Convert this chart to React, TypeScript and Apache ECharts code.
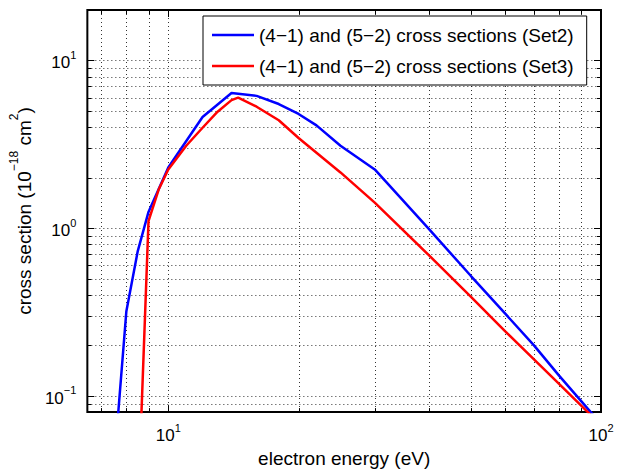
import React, { useEffect, useRef } from 'react';
import * as echarts from 'echarts';

const energySet2 = [7.5, 8.0, 8.5, 9.0, 10, 12, 14, 16, 18, 20, 22, 25, 30, 40, 50, 60, 70, 80, 90, 100];
const crossSet2 = [0.04, 0.32, 0.73, 1.25, 2.3, 4.6, 6.4, 6.15, 5.5, 4.8, 4.1, 3.1, 2.24, 0.99, 0.52, 0.31, 0.2, 0.132, 0.093, 0.068];
const energySet3 = [8.5, 9.0, 9.5, 10, 11, 12, 13, 14, 14.5, 16, 18, 20, 25, 30, 40, 50, 60, 70, 80, 90, 100];
const crossSet3 = [0.02, 1.1, 1.7, 2.24, 3.1, 3.97, 4.95, 5.8, 6.0, 5.3, 4.4, 3.45, 2.15, 1.42, 0.69, 0.39, 0.243, 0.165, 0.118, 0.0875, 0.067];
const seriesNames = ['(4−1) and (5−2) cross sections (Set2)', '(4−1) and (5−2) cross sections (Set3)'];
const seriesColors = ['#0000ff', '#ff0000'];
const xRange = [6.5, 100];
const yRange = [0.08, 20];
const xGridValues = [7, 8, 9, 10, 20, 30, 40, 50, 60, 70, 80, 90];
const yGridValues = [0.09, 0.1, 0.2, 0.3, 0.4, 0.5, 0.6, 0.7, 0.8, 0.9, 1, 2, 3, 4, 5, 6, 7, 8, 9, 10];
const xTitle = 'electron energy (eV)';
const yTitle = '{b|cross section (10}{s|−18}{b| cm}{s|2}{b|)}';

const FONT = '"Liberation Sans", Arial, Helvetica, sans-serif';

const isPow10 = (v: number) => {
  const l = Math.log10(v);
  return Math.abs(l - Math.round(l)) < 1e-6;
};

const tickFormatter = (v: number) => {
  if (!isPow10(v)) return '';
  const e = Math.round(Math.log10(v));
  return `{b|10}{s|${String(e).replace('-', '−')}}`;
};

const labelRich = {
  b: { fontSize: 17, lineHeight: 22, verticalAlign: 'bottom', fontFamily: FONT, color: '#000' },
  s: { fontSize: 11, lineHeight: 6, verticalAlign: 'top', fontFamily: FONT, color: '#000' },
};

const gridStyle = () => ({ stroke: '#000', lineWidth: 1, lineDash: [1, 3], fill: null, opacity: 0.8 });
const tickStyle = () => ({ stroke: '#000', lineWidth: 1, fill: null });

export default function App() {
  const ref = useRef<HTMLDivElement>(null);
  useEffect(() => {
    if (!ref.current) return;
    const chart = echarts.init(ref.current, undefined, { renderer: 'svg' });
    const option: any = {
      animation: false,
      backgroundColor: '#fff',
      grid: {
        left: 87, top: 10, width: 514, height: 405,
        show: true, borderColor: '#000', borderWidth: 2, backgroundColor: '#fff',
      },
      legend: {
        data: seriesNames,
        orient: 'vertical',
        left: 203, top: 16,
        padding: [9, 13, 9, 9],
        itemGap: 11,
        itemWidth: 42,
        itemHeight: 2.5,
        icon: 'rect',
        borderColor: '#000',
        borderWidth: 1,
        backgroundColor: '#fff',
        textStyle: { fontSize: 19, lineHeight: 20, fontFamily: FONT, color: '#000' },
      },
      xAxis: {
        type: 'log', logBase: 10, min: xRange[0], max: xRange[1],
        axisLine: { show: false }, axisTick: { show: false }, splitLine: { show: false },
        axisLabel: { formatter: tickFormatter, rich: labelRich, margin: 10 },
        name: xTitle, nameLocation: 'middle', nameGap: 31,
        nameTextStyle: { fontSize: 19, fontFamily: FONT, color: '#000' },
      },
      yAxis: {
        type: 'log', logBase: 10, min: yRange[0], max: yRange[1],
        axisLine: { show: false }, axisTick: { show: false }, splitLine: { show: false },
        axisLabel: { formatter: tickFormatter, rich: labelRich, margin: 11 },
        name: yTitle, nameLocation: 'middle', nameGap: 44, nameRotate: 90,
        nameTextStyle: {
          fontFamily: FONT, color: '#000',
          rich: {
            b: { fontSize: 19, lineHeight: 26, verticalAlign: 'bottom', fontFamily: FONT, color: '#000' },
            s: { fontSize: 12, lineHeight: 8, verticalAlign: 'top', fontFamily: FONT, color: '#000' },
          },
        },
      },
      series: [
        {
          type: 'custom', name: 'xgrid', z: 1, silent: true,
          data: xGridValues.map((v) => [v, 1]),
          encode: { x: 0, y: 1 },
          renderItem: (params: any, api: any) => {
            const cs = params.coordSys;
            const val = api.value(0);
            const x = Math.round(api.coord([val, 1])[0]) + 0.5;
            const len = isPow10(val) ? 7 : 4;
            const top = cs.y, bottom = cs.y + cs.height;
            return {
              type: 'group',
              children: [
                { type: 'line', shape: { x1: x, y1: top, x2: x, y2: bottom }, style: gridStyle() },
                { type: 'line', shape: { x1: x, y1: bottom, x2: x, y2: bottom - len }, style: tickStyle() },
                { type: 'line', shape: { x1: x, y1: top, x2: x, y2: top + len }, style: tickStyle() },
              ],
            };
          },
        },
        {
          type: 'custom', name: 'ygrid', z: 1, silent: true,
          data: yGridValues.map((v) => [10, v]),
          encode: { x: 0, y: 1 },
          renderItem: (params: any, api: any) => {
            const cs = params.coordSys;
            const val = api.value(1);
            const y = Math.round(api.coord([10, val])[1]) + 0.5;
            const len = isPow10(val) ? 7 : 4;
            const left = cs.x, right = cs.x + cs.width;
            return {
              type: 'group',
              children: [
                { type: 'line', shape: { x1: left, y1: y, x2: right, y2: y }, style: gridStyle() },
                { type: 'line', shape: { x1: left, y1: y, x2: left + len, y2: y }, style: tickStyle() },
                { type: 'line', shape: { x1: right, y1: y, x2: right - len, y2: y }, style: tickStyle() },
              ],
            };
          },
        },
        {
          type: 'line', name: seriesNames[0], z: 3,
          data: energySet2.map((e, i) => [e, crossSet2[i]]),
          symbol: 'none', color: seriesColors[0],
          lineStyle: { width: 2.5, color: seriesColors[0] },
        },
        {
          type: 'line', name: seriesNames[1], z: 3,
          data: energySet3.map((e, i) => [e, crossSet3[i]]),
          symbol: 'none', color: seriesColors[1],
          lineStyle: { width: 2.5, color: seriesColors[1] },
        },
      ],
    };
    chart.setOption(option);
    return () => chart.dispose();
  }, []);
  return <div ref={ref} style={{ width: 624, height: 473, position: 'absolute', left: 0, top: 0 }} />;
}
